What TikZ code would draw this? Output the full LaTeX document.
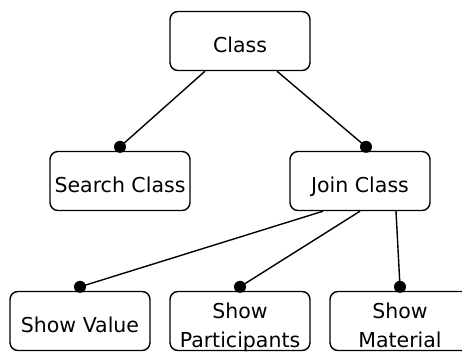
\documentclass[tikz,border=0pt]{standalone}
\usepackage{fontspec}
\setmainfont{DejaVu Sans}
\usetikzlibrary{calc}
% two centred lines, the first one hanging on the node baseline
\newcommand{\twolines}[2]{\raisebox{14.5pt}{\begin{tabular}[t]{@{}c@{}}#1\\[0.5pt]#2\end{tabular}}}
\begin{document}
\begin{tikzpicture}[x=1pt,y=-1pt,
  box/.style={draw=black, line width=1.4pt, rounded corners=8pt, fill=white,
    minimum width=140pt, minimum height=59pt, inner sep=0pt,
    text height=23pt, text depth=0pt,
    font=\fontsize{20.5pt}{28.5pt}\selectfont},
  link/.style={draw=black, line width=1.4pt},
  dot/.style={circle, fill=black, inner sep=0pt, minimum size=12pt}]
  \clip (0,0) rectangle (462,351);
  \useasboundingbox (0,0) rectangle (462,351);
  % nodes of the tree
  \node[box] (cls)  at (240,41)  {Class};
  \node[box] (srch) at (120,181) {Search Class};
  \node[box] (join) at (360,181) {Join Class};
  \node[box] (val)  at (80,321)  {Show Value};
  \node[box] (part) at (240,321) {\twolines{Show}{Participants}};
  \node[box] (mat)  at (400,321) {\twolines{Show}{Material}};
  % connectors ending in a filled dot on the child box
  \draw[link] ([xshift=-35pt]cls.south) -- ([yshift=4pt]srch.north) node[dot] {};
  \draw[link] ([xshift=37pt]cls.south) -- ([xshift=6pt,yshift=4pt]join.north) node[dot] {};
  \draw[link] ([xshift=-37pt]join.south) -- ([yshift=4pt]val.north) node[dot] {};
  \draw[link] (join.south) -- ([yshift=4pt]part.north) node[dot] {};
  \draw[link] ([xshift=36pt]join.south) -- ([yshift=4pt]mat.north) node[dot] {};
\end{tikzpicture}
\end{document}
